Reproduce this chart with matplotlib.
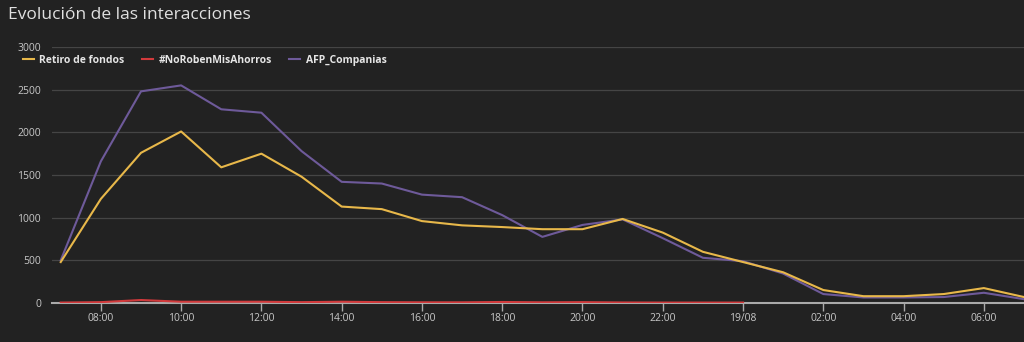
import numpy as np
import pandas as pd
import matplotlib
matplotlib.use("Agg")
import matplotlib.pyplot as plt
import matplotlib.dates as mdates
from matplotlib.ticker import FuncFormatter

# Hourly data, 18/08 07:00 -> 19/08 07:00
start = "2020-08-18 07:00"
retiro_fondos = [480, 1220, 1760, 2010, 1590, 1750, 1480, 1130, 1100, 960, 910, 890,
                 865, 865, 985, 825, 600, 480, 360, 152, 80, 80, 105, 175, 70]
afp_companias = [500, 1660, 2480, 2550, 2270, 2230, 1780, 1420, 1400, 1270, 1240, 1030,
                 775, 915, 980, 760, 530, 490, 345, 105, 65, 65, 70, 120, 45]
no_roben = [5, 10, 35, 15, 15, 15, 10, 15, 10, 8, 8, 12, 8, 10, 6, 5, 5, 5]

series_names = ["Retiro de fondos", "#NoRobenMisAhorros", "AFP_Companias"]
series_colors = ["#E8B84A", "#D23A3C", "#6E5A9A"]

times = pd.date_range(start, periods=len(retiro_fondos), freq="h")

BG = "#222222"
plt.rcParams['font.family'] = ['Open Sans', 'DejaVu Sans']

fig = plt.figure(figsize=(10.24, 3.42), dpi=100, facecolor=BG)
ax = fig.add_axes([0.0508, 0.114, 0.9492, 0.7486], facecolor=BG)

ax.plot(times, retiro_fondos, color=series_colors[0], lw=1.5, label=series_names[0], zorder=3)
ax.plot(times[:len(no_roben)], no_roben, color=series_colors[1], lw=1.5, label=series_names[1],
        zorder=4)
ax.plot(times, afp_companias, color=series_colors[2], lw=1.5, label=series_names[2], zorder=2)

ax.set_ylim(0, 3000)
ax.set_yticks(np.arange(0, 3001, 500))
ax.set_xlim(times[0] - pd.Timedelta(minutes=13), times[-1])

ax.xaxis.set_major_locator(mdates.HourLocator(byhour=range(0, 24, 2)))


def fmt_time(x, pos):
    d = mdates.num2date(x)
    if d.hour == 0:
        return d.strftime("%d/%m")
    return d.strftime("%H:%M")


ax.xaxis.set_major_formatter(FuncFormatter(fmt_time))

ax.grid(axis="y", color="#454545", lw=0.9)
ax.set_axisbelow(True)
for s in ["top", "right", "left"]:
    ax.spines[s].set_visible(False)
ax.spines["bottom"].set_color("#aaaaaa")
ax.spines["bottom"].set_linewidth(1.5)
ax.tick_params(axis="y", length=0, colors="#c8c8c8", labelsize=7.5, pad=8)
ax.tick_params(axis="x", length=6, width=1, color="#aaaaaa", labelcolor="#c8c8c8",
               labelsize=7.5, pad=1.5)

fig.text(0.008, 0.955, "Evolución de las interacciones", color="#e0e0e0",
         fontsize=12.5, va="center", ha="left")

leg = ax.legend(loc="upper left", bbox_to_anchor=(-0.040, 1.005), ncol=3, frameon=False,
                handlelength=1.1, handletextpad=0.5, columnspacing=1.65,
                prop={"weight": "bold", "size": 7.5})
for t in leg.get_texts():
    t.set_color("#e6e6e6")

fig.savefig("out.png", dpi=100, facecolor=BG)
